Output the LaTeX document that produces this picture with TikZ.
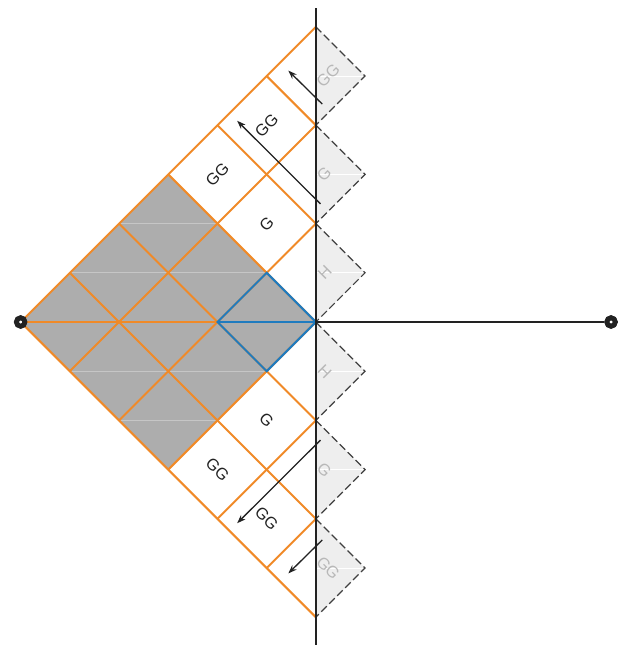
\documentclass[tikz,border=0pt]{standalone}
\usepackage{fontspec}
\setmainfont{Liberation Sans}
\usetikzlibrary{arrows.meta}
\usepackage{xcolor}
\definecolor{cGrid}{HTML}{F08A28}
\definecolor{cCell}{HTML}{1F7BBF}
\definecolor{cShade}{HTML}{ADADAD}
\definecolor{cSeam}{HTML}{C6C6C6}
\definecolor{cGhost}{HTML}{EEEEEE}
\definecolor{cGhostTxt}{HTML}{B8B8B8}
\definecolor{cDash}{HTML}{404040}
\definecolor{cInk}{HTML}{222222}

\begin{document}
\begin{tikzpicture}[x=1cm, y=1cm,
    >=Stealth,
    grid/.style={line width=1.15pt, color=#1},
    grid/.default=cGrid,
    axis/.style={line width=1.15pt, color=cInk},
    seam/.style={line width=0.4pt, color=#1},
    half/.style={
        draw=cDash, line width=0.7pt, dash pattern=on 4.5pt off 2pt
    },
    lbl/.style={
        font=\fontsize{9.4}{11}\selectfont, text=cInk,
        inner sep=1pt, rotate=#1
    },
    ghost/.style={lbl=#1, text=cGhostTxt},
    flow/.style={->, line width=0.75pt, color=cInk},
    pole/.style={
        circle, draw=cInk, fill=white, line width=2.8pt,
        minimum size=0.17cm, inner sep=0pt
    },
]
\useasboundingbox (-6.42,-6.565) rectangle (6.24,6.545);

% Right halves – dashed ghost cells
\foreach \yc in {5,3,1,-1,-3,-5} {
    \fill[cGhost] (0,\yc+1) -- (1,\yc) -- (0,\yc-1) -- cycle;
    \draw[seam=white] (0,\yc) -- (1,\yc);
    \draw[half] (0,\yc+1) -- (1,\yc) -- (0,\yc-1);
}

% Shaded block
\fill[cShade] (-6,0) -- (-3,3) -- (0,0) -- (-3,-3) -- cycle;
\draw[seam=cSeam] (-4,2) -- (-2,2);
\draw[seam=cSeam] (-5,1) -- (-1,1);
\draw[seam=cSeam] (-5,-1) -- (-1,-1);
\draw[seam=cSeam] (-4,-2) -- (-2,-2);

% Orange lattice
\foreach \c in {-6,-4,...,4}
    \draw[grid] ({(\c-6)/2},{(-\c-6)/2}) -- (0,{-\c});
\foreach \c in {-6,-4,...,4}
    \draw[grid] ({(\c-6)/2},{(\c+6)/2}) -- (0,\c);

% Axes
\coordinate (origin) at (0,0);
\coordinate (top)    at (0,6.38);
\coordinate (bottom) at (0,-6.6);
\node[pole] (west) at (-6,0) {};
\node[pole] (east) at ( 6,0) {};
\draw[axis] (origin) -- (east);
\draw[grid] (west.center) -- (-2,0);

% Blue cell
\draw[grid=cCell] (-2,0) -- (-1,1) -- (0,0) -- (-1,-1) -- cycle;
\draw[grid=cCell] (-2,0) -- (origin);
\draw[axis] (top) -- (bottom);
\node[pole] at (west) {};
\node[pole] at (east) {};

% Labels – upper
\node[lbl=45] (gg1) at (-2,3) {GG};
\node[lbl=45] (g1)  at (-1,2) {G};
\node[lbl=45] (gg2) at (-1,4) {GG};
\node[ghost=45] (hgg1) at (0.25,5)  {GG};
\node[ghost=45] (hg1)  at (0.17,3)  {G};
\node[ghost=45] (hh1)  at (0.18,1)  {H};

% Labels – lower
\node[lbl=-45] (gg3) at (-2,-3) {GG};
\node[lbl=-45] (g2)  at (-1,-2) {G};
\node[lbl=-45] (gg4) at (-1,-4) {GG};
\node[ghost=-45] (hh2)  at (0.18,-1) {H};
\node[ghost=-45] (hg2)  at (0.17,-3) {G};
\node[ghost=-45] (hgg2) at (0.25,-5) {GG};

% Arrows
\coordinate (up1s) at (0.13,4.43);  \coordinate (up1e) at (-0.56,5.11);
\coordinate (up2s) at (0.095,2.40); \coordinate (up2e) at (-1.6,4.09);
\coordinate (dn1s) at (0.095,-2.40); \coordinate (dn1e) at (-1.6,-4.09);
\coordinate (dn2s) at (0.13,-4.43);  \coordinate (dn2e) at (-0.56,-5.11);
\draw[flow, -{Stealth[length=5pt, width=3.6pt]}] (up1s) -- (up1e);
\draw[flow, -{Stealth[length=5pt, width=3.6pt]}] (up2s) -- (up2e);
\draw[flow, -{Stealth[length=5pt, width=3.6pt]}] (dn1s) -- (dn1e);
\draw[flow, -{Stealth[length=5pt, width=3.6pt]}] (dn2s) -- (dn2e);

\end{tikzpicture}
\end{document}
